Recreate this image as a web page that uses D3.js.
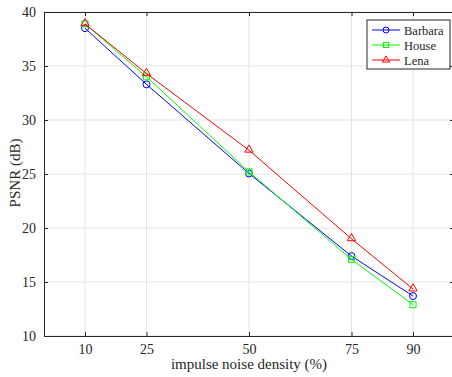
<!DOCTYPE html>
<html>
<head>
<meta charset="utf-8">
<script src="https://cdn.jsdelivr.net/npm/d3@7"></script>
<style>
  body { margin: 0; background: #fff; }
  svg text { font-family: "Liberation Serif", "Times New Roman", serif; fill: #262626; }
</style>
</head>
<body>
<svg id="chart" width="452" height="377"></svg>
<script>
const densities = [10, 25, 50, 75, 90];
const barbara = [38.5, 33.3, 25.05, 17.4, 13.7];
const house = [38.9, 34.0, 25.2, 17.1, 12.9];
const lena = [38.9, 34.3, 27.2, 19.0, 14.35];
const yTicks = [10, 15, 20, 25, 30, 35, 40];

const series = [
  {name: "Barbara", values: barbara, color: "#0000ff", marker: "circle"},
  {name: "House", values: house, color: "#00ff00", marker: "square"},
  {name: "Lena", values: lena, color: "#ff0000", marker: "triangle"}
];

const svg = d3.select("#chart");
const plotLeft = 44, plotRight = 454, plotTop = 12, plotBottom = 336;

const x = d3.scaleLinear().domain([0, 100]).range([plotLeft, plotRight]);
const y = d3.scaleLinear().domain([10, 40]).range([plotBottom, plotTop]);

// grid
svg.append("g").selectAll("line").data(densities).enter().append("line")
  .attr("x1", d => x(d)).attr("x2", d => x(d))
  .attr("y1", plotTop).attr("y2", plotBottom)
  .attr("stroke", "#e3e3e3").attr("stroke-width", 1);
svg.append("g").selectAll("line").data(yTicks).enter().append("line")
  .attr("x1", plotLeft).attr("x2", plotRight)
  .attr("y1", d => y(d)).attr("y2", d => y(d))
  .attr("stroke", "#e3e3e3").attr("stroke-width", 1);

// axes
const axisColor = "#262626";
const bottomAxis = svg.append("g").attr("transform", `translate(0,${plotBottom})`)
  .call(d3.axisBottom(x).tickValues(densities).tickSize(-4).tickPadding(8));
const leftAxis = svg.append("g").attr("transform", `translate(${plotLeft},0)`)
  .call(d3.axisLeft(y).tickValues(yTicks).tickSize(-4).tickPadding(8));
const topAxis = svg.append("g").attr("transform", `translate(0,${plotTop})`)
  .call(d3.axisTop(x).tickValues(densities).tickSize(-4).tickFormat(""));
const rightAxis = svg.append("g").attr("transform", `translate(${plotRight},0)`)
  .call(d3.axisRight(y).tickValues(yTicks).tickSize(-4).tickFormat(""));

[bottomAxis, leftAxis, topAxis, rightAxis].forEach(g => {
  g.attr("font-family", "Liberation Serif");
  g.select(".domain").attr("stroke", axisColor).attr("stroke-width", 1);
  g.selectAll(".tick line").attr("stroke", axisColor);
  g.selectAll("text").attr("font-size", 14).attr("fill", axisColor);
});

// lines and markers
const line = d3.line().x((d, i) => x(densities[i])).y(d => y(d));
const triangle = d3.symbol().type(d3.symbolTriangle).size(30);

series.forEach(s => {
  const g = svg.append("g");
  g.append("path").datum(s.values)
    .attr("d", line).attr("fill", "none")
    .attr("stroke", s.color).attr("stroke-width", 1);
  const pts = g.selectAll(".pt").data(s.values).enter();
  if (s.marker === "circle") {
    pts.append("circle").attr("cx", (d, i) => x(densities[i])).attr("cy", d => y(d))
      .attr("r", 3.5).attr("fill", "none").attr("stroke", s.color);
  } else if (s.marker === "square") {
    pts.append("rect").attr("x", (d, i) => x(densities[i]) - 3).attr("y", d => y(d) - 3)
      .attr("width", 6).attr("height", 6).attr("fill", "none").attr("stroke", s.color);
  } else {
    pts.append("path").attr("d", triangle)
      .attr("transform", (d, i) => `translate(${x(densities[i])},${y(d) - 0.5})`)
      .attr("fill", "none").attr("stroke", s.color);
  }
});

// labels
svg.append("text").attr("x", 249).attr("y", 369)
  .attr("text-anchor", "middle").attr("font-size", 15).text("impulse noise density (%)");
svg.append("text").attr("transform", `translate(20,173) rotate(-90)`)
  .attr("text-anchor", "middle").attr("font-size", 15).text("PSNR (dB)");

// legend
const lg = svg.append("g").attr("transform", "translate(367,20)");
lg.append("rect").attr("width", 83).attr("height", 49)
  .attr("fill", "#fff").attr("stroke", axisColor).attr("stroke-width", 1);
series.forEach((s, i) => {
  const cy = 10 + i * 15;
  lg.append("line").attr("x1", 5).attr("x2", 33).attr("y1", cy).attr("y2", cy)
    .attr("stroke", s.color);
  if (s.marker === "circle") {
    lg.append("circle").attr("cx", 19).attr("cy", cy).attr("r", 3).attr("fill", "none").attr("stroke", s.color);
  } else if (s.marker === "square") {
    lg.append("rect").attr("x", 16.5).attr("y", cy - 2.5).attr("width", 5).attr("height", 5)
      .attr("fill", "none").attr("stroke", s.color);
  } else {
    lg.append("path").attr("d", d3.symbol().type(d3.symbolTriangle).size(22))
      .attr("transform", `translate(19,${cy})`).attr("fill", "none").attr("stroke", s.color);
  }
  lg.append("text").attr("x", 37).attr("y", cy + 4.5).attr("font-size", 12.5).text(s.name);
});
</script>
</body>
</html>
